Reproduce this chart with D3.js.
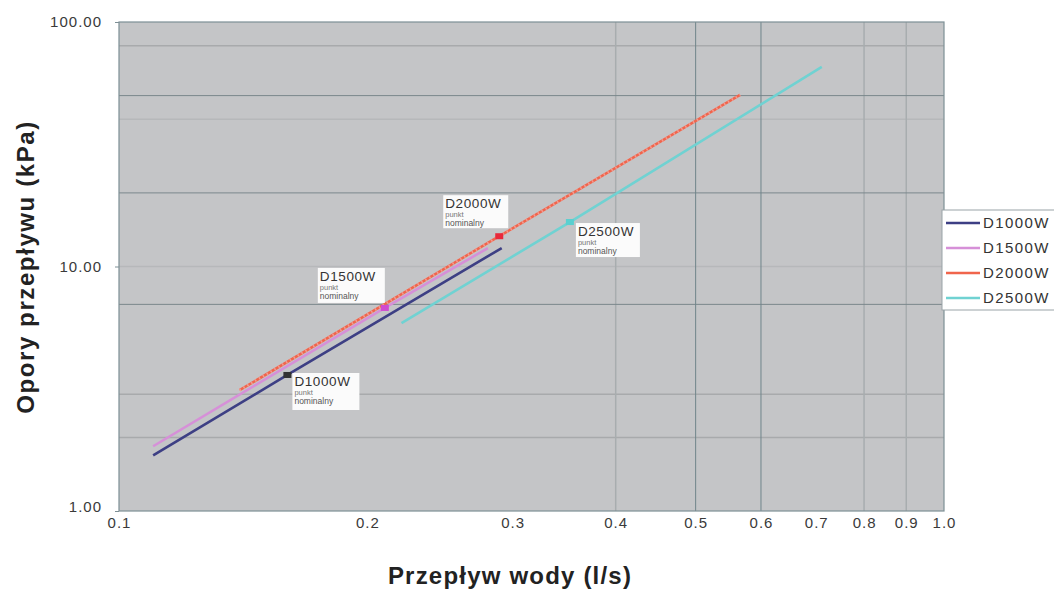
<!DOCTYPE html>
<html>
<head>
<meta charset="utf-8">
<script src="https://cdn.jsdelivr.net/npm/d3@7"></script>
<style>
  body { margin: 0; background: #fff; }
  text { font-family: "Liberation Sans", Arial, sans-serif; }
</style>
</head>
<body>
<script>
// values (flow in l/s, pressure drop in kPa)
const seriesNames = ['D1000W', 'D1500W', 'D2000W', 'D2500W'];
const flowD1000 = [0.110, 0.160, 0.291];
const dpD1000 = [1.69, 3.6, 11.9];
const flowD1500 = [0.110, 0.210, 0.280];
const dpD1500 = [1.84, 6.77, 11.9];
const flowD2000 = [0.140, 0.289, 0.566];
const dpD2000 = [3.12, 13.3, 50.3];
const flowD2500 = [0.220, 0.352, 0.711];
const dpD2500 = [5.87, 15.2, 65.5];

// nominal points ("punkt nominalny")
const nominalFlow = [0.160, 0.210, 0.289, 0.352];
const nominalDp = [3.6, 6.77, 13.3, 15.2];

const xTickValues = [0.1, 0.2, 0.3, 0.4, 0.5, 0.6, 0.7, 0.8, 0.9, 1.0];
const yTickValues = [1, 10, 100];
const xGridStrong = [0.5, 0.6];
const xGridMid = [0.4, 0.8, 0.9];
const yGridStrong = [50, 20, 7];
const yGridMid = [80, 3, 2];
const yGridFaint = [40, 10];

const colors = ['#3d3f84', '#d690d8', '#f0654c', '#70d2d2'];
const markerColors = ['#333333', '#d04ad0', '#e8283a', '#5ad0d0'];

const chartWidth = 1054;
const chartHeight = 589;
const margin = { top: 22, left: 119, right: 110, bottom: 78 };
const width = 944 - margin.left;
const height = 511 - margin.top;

const scaleX = d3.scaleLog().domain([0.1, 1]).range([0, width]);
const scaleY = d3.scaleLog().domain([1, 100]).range([height, 0]);

const svg = d3.select('body').append('svg')
  .attr('width', chartWidth)
  .attr('height', chartHeight);

const g = svg.append('g')
  .attr('transform', 'translate(' + margin.left + ',' + margin.top + ')');

// plot area
g.append('rect')
  .attr('width', width)
  .attr('height', height)
  .attr('fill', '#c4c5c7');

// grid
const grid = g.append('g');
grid.selectAll('.hf').data(yGridFaint).enter().append('line')
  .attr('x1', 0).attr('x2', width)
  .attr('y1', d => scaleY(d)).attr('y2', d => scaleY(d))
  .attr('stroke', '#b6b8ba').attr('stroke-width', 1.5);
grid.selectAll('.hm').data(yGridMid).enter().append('line')
  .attr('x1', 0).attr('x2', width)
  .attr('y1', d => scaleY(d)).attr('y2', d => scaleY(d))
  .attr('stroke', '#a8aaac').attr('stroke-width', 1.5);
grid.selectAll('.vm').data(xGridMid).enter().append('line')
  .attr('x1', d => scaleX(d)).attr('x2', d => scaleX(d))
  .attr('y1', 0).attr('y2', height)
  .attr('stroke', '#a8adaf').attr('stroke-width', 1.5);
grid.selectAll('.hs').data(yGridStrong).enter().append('line')
  .attr('x1', 0).attr('x2', width)
  .attr('y1', d => scaleY(d)).attr('y2', d => scaleY(d))
  .attr('stroke', '#7a878c').attr('stroke-width', 1);
grid.selectAll('.vs').data(xGridStrong).enter().append('line')
  .attr('x1', d => scaleX(d)).attr('x2', d => scaleX(d))
  .attr('y1', 0).attr('y2', height)
  .attr('stroke', '#6f848a').attr('stroke-width', 1);

// border
g.append('rect')
  .attr('width', width)
  .attr('height', height)
  .attr('fill', 'none')
  .attr('stroke', '#7d8f95')
  .attr('stroke-width', 1.2);

// axes
const yAxis = d3.axisLeft(scaleY)
  .tickValues(yTickValues)
  .tickFormat(d3.format('.2f'))
  .tickSize(4)
  .tickPadding(13);
const yg = g.append('g').call(yAxis);
yg.select('.domain').remove();
yg.selectAll('line').attr('stroke', '#7d8f95');
yg.selectAll('text')
  .attr('font-size', 15)
  .attr('letter-spacing', 1)
  .attr('fill', '#3a3a3a');
yg.selectAll('text').filter(d => d === 1).attr('dy', '0.05em');

const xAxis = d3.axisBottom(scaleX)
  .tickValues(xTickValues)
  .tickFormat(d3.format('.1f'))
  .tickSize(0)
  .tickPadding(6);
const xg = g.append('g').attr('transform', 'translate(0,' + height + ')').call(xAxis);
xg.select('.domain').remove();
xg.selectAll('text')
  .attr('font-size', 15)
  .attr('letter-spacing', 1)
  .attr('fill', '#3a3a3a');

// series
const flows = [flowD1000, flowD1500, flowD2000, flowD2500];
const dps = [dpD1000, dpD1500, dpD2000, dpD2500];
const seriesData = seriesNames.map((name, i) => ({
  name: name,
  color: colors[i],
  values: flows[i].map((f, j) => ({ q: f, p: dps[i][j] }))
}));

const line = d3.line().x(d => scaleX(d.q)).y(d => scaleY(d.p));

g.selectAll('.series').data(seriesData).enter().append('path')
  .attr('d', d => line(d.values))
  .attr('fill', 'none')
  .attr('stroke', d => d.color)
  .attr('stroke-width', 2.6);

// the D2000W line looks hatched in the scan
g.append('path')
  .datum(seriesData[2])
  .attr('d', d => line(d.values))
  .attr('fill', 'none')
  .attr('stroke', '#f39a90')
  .attr('stroke-width', 2.6)
  .attr('stroke-dasharray', '1.5,3');

// nominal points
const nominal = seriesNames.map((name, i) => ({
  name: name, q: nominalFlow[i], p: nominalDp[i], color: markerColors[i]
}));
g.selectAll('.pt').data(nominal).enter().append('rect')
  .attr('x', d => scaleX(d.q) - 4)
  .attr('y', d => scaleY(d.p) - 3)
  .attr('width', 8)
  .attr('height', 6)
  .attr('fill', d => d.color);

// label boxes next to the nominal points
const labelOffsets = [
  { dx: 5, dy: -2, w: 67, h: 37 },
  { dx: -67, dy: -40, w: 67, h: 35 },
  { dx: -56, dy: -41, w: 65, h: 33 },
  { dx: 6, dy: 1, w: 64, h: 34 }
];
const labels = g.selectAll('.lbl').data(nominal).enter().append('g')
  .attr('transform', (d, i) => 'translate(' + (scaleX(d.q) + labelOffsets[i].dx) + ',' + (scaleY(d.p) + labelOffsets[i].dy) + ')');
labels.append('rect')
  .attr('width', (d, i) => labelOffsets[i].w)
  .attr('height', (d, i) => labelOffsets[i].h)
  .attr('fill', '#fbfbfb');
labels.append('text')
  .attr('x', 2).attr('y', 13)
  .attr('font-size', 13.5)
  .attr('letter-spacing', 0.6)
  .attr('fill', '#333')
  .text(d => d.name);
labels.append('text')
  .attr('x', 2).attr('y', 22)
  .attr('font-size', 7.5)
  .attr('fill', '#777')
  .text('punkt');
labels.append('text')
  .attr('x', 2).attr('y', 31)
  .attr('font-size', 8.5)
  .attr('fill', '#555')
  .text('nominalny');

// legend
const legend = svg.append('g').attr('transform', 'translate(942,210)');
legend.append('rect')
  .attr('width', 130)
  .attr('height', 100)
  .attr('fill', '#fff')
  .attr('stroke', '#9aa4a8');
const items = legend.selectAll('.item').data(seriesData).enter().append('g')
  .attr('transform', (d, i) => 'translate(0,' + (13 + i * 25) + ')');
items.append('line')
  .attr('x1', 4).attr('x2', 38)
  .attr('stroke', d => d.color)
  .attr('stroke-width', 2.5);
items.append('text')
  .attr('x', 41).attr('y', 5)
  .attr('font-size', 15)
  .attr('letter-spacing', 1.4)
  .attr('fill', '#333')
  .text(d => d.name);

// axis titles
svg.append('text')
  .attr('x', 510).attr('y', 584)
  .attr('text-anchor', 'middle')
  .attr('font-size', 24)
  .attr('letter-spacing', 1.2)
  .attr('font-weight', 'bold')
  .attr('fill', '#222')
  .text('Przepływ wody (l/s)');

svg.append('text')
  .attr('transform', 'translate(34,267) rotate(-90)')
  .attr('text-anchor', 'middle')
  .attr('font-size', 24)
  .attr('letter-spacing', 1.6)
  .attr('font-weight', 'bold')
  .attr('fill', '#222')
  .text('Opory przepływu (kPa)');
</script>
</body>
</html>
